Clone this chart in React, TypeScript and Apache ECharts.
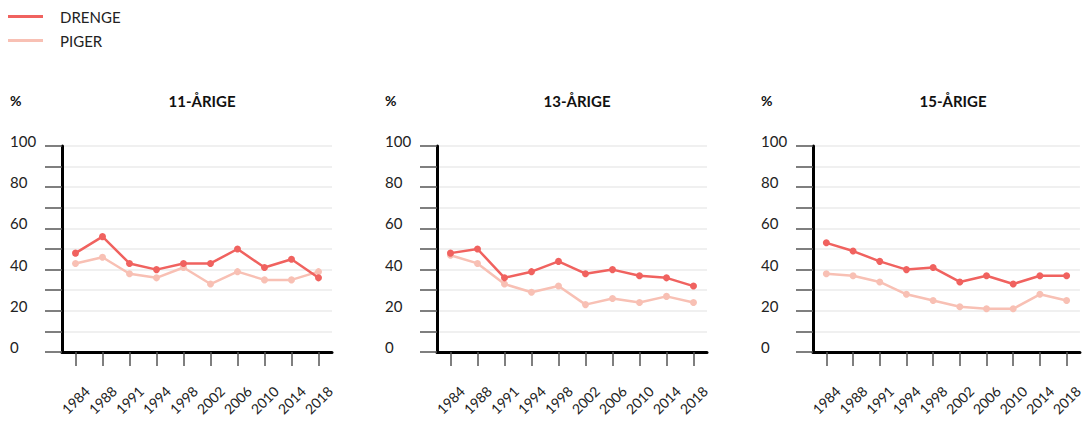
import React, { useEffect, useRef } from "react";
import * as echarts from "echarts";

const years = ["1984", "1988", "1991", "1994", "1998", "2002", "2006", "2010", "2014", "2018"];
const panelTitles = ["11-ÅRIGE", "13-ÅRIGE", "15-ÅRIGE"];
const drenge11 = [48, 56, 43, 40, 43, 43, 50, 41, 45, 36];
const piger11 = [43, 46, 38, 36, 41, 33, 39, 35, 35, 39];
const drenge13 = [48, 50, 36, 39, 44, 38, 40, 37, 36, 32];
const piger13 = [47, 43, 33, 29, 32, 23, 26, 24, 27, 24];
const drenge15 = [53, 49, 44, 40, 41, 34, 37, 33, 37, 37];
const piger15 = [38, 37, 34, 28, 25, 22, 21, 21, 28, 25];

const drengeData = [drenge11, drenge13, drenge15];
const pigerData = [piger11, piger13, piger15];

const RED = "#f0625f";
const PINK = "#f8c0b4";
const FONT = "Lato, 'Open Sans', sans-serif";

export default function App() {
  const ref = useRef<HTMLDivElement>(null);
  useEffect(() => {
    if (!ref.current) return;
    const chart = echarts.init(ref.current, undefined, { renderer: "svg" });
    const lefts = [62, 437, 813];
    const W = 270;
    const grids = lefts.map((l) => ({ left: l, top: 146, width: W, height: 206 }));
    const xAxes = lefts.map((_, i) => ({
      type: "category",
      gridIndex: i,
      data: years,
      boundaryGap: true,
      axisLine: { show: true, lineStyle: { color: "#000", width: 3 } },
      axisTick: { show: true, alignWithLabel: true, length: 14, lineStyle: { color: "#555", width: 1.5 } },
      axisLabel: {
        rotate: 45,
        align: "center",
        verticalAlign: "middle",
        margin: 48,
        fontSize: 14,
        color: "#222",
        fontFamily: FONT,
        interval: 0,
      },
      splitLine: { show: false },
    }));
    const yAxes = lefts.map((_, i) => ({
      type: "value",
      gridIndex: i,
      min: 0,
      max: 100,
      interval: 10,
      axisLine: { show: true, lineStyle: { color: "#000", width: 3 } },
      axisTick: { show: true, length: 17, lineStyle: { color: "#555", width: 1.5 } },
      axisLabel: {
        align: "left",
        verticalAlign: "bottom",
        lineHeight: 10,
        margin: 52,
        fontSize: 15,
        color: "#222",
        fontFamily: FONT,
        formatter: (v: number) => (v % 20 === 0 ? String(v) : ""),
      },
      splitLine: { show: true, lineStyle: { color: "#ebebeb", width: 1.5 } },
    }));
    const series: any[] = [];
    lefts.forEach((_, i) => {
      series.push({
        name: "PIGER",
        type: "line",
        xAxisIndex: i,
        yAxisIndex: i,
        data: pigerData[i],
        symbol: "circle",
        symbolSize: 7,
        itemStyle: { color: PINK },
        lineStyle: { color: PINK, width: 2.5 },
      });
      series.push({
        name: "DRENGE",
        type: "line",
        xAxisIndex: i,
        yAxisIndex: i,
        data: drengeData[i],
        symbol: "circle",
        symbolSize: 7,
        itemStyle: { color: RED },
        lineStyle: { color: RED, width: 2.5 },
      });
    });
    const titles = lefts.map((l, i) => ({
      text: panelTitles[i],
      left: l + W / 2,
      top: 88,
      textAlign: "center",
      textStyle: { fontSize: 15, fontWeight: "bold", color: "#111", fontFamily: FONT },
    }));
    const graphics = lefts.map((l) => ({
      type: "text",
      left: l - 52,
      top: 93,
      style: { text: "%", fontSize: 14, fontWeight: "bold", fill: "#111", fontFamily: FONT },
    }));
    chart.setOption({
      animation: false,
      backgroundColor: "#fff",
      title: titles,
      legend: {
        data: ["DRENGE", "PIGER"],
        orient: "vertical",
        left: 8,
        top: 9,
        padding: 0,
        icon: "rect",
        itemWidth: 35,
        itemHeight: 3,
        itemGap: 9,
        textStyle: { fontSize: 15, color: "#222", fontFamily: FONT, padding: [0, 0, 0, 12] },
      },
      grid: grids,
      xAxis: xAxes,
      yAxis: yAxes,
      series,
      graphic: graphics,
    });
    return () => chart.dispose();
  }, []);
  return <div ref={ref} style={{ width: 1085, height: 421, position: "absolute", left: 0, top: 0 }} />;
}
